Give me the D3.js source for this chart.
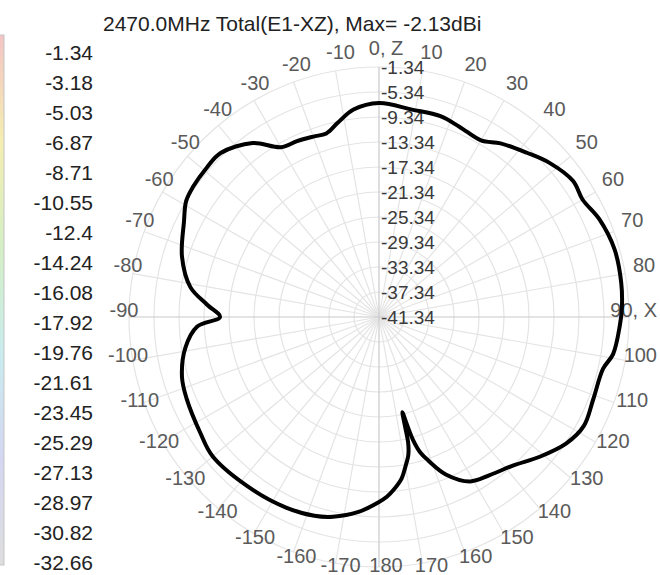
<!DOCTYPE html>
<html>
<head>
<meta charset="utf-8">
<script src="https://cdn.jsdelivr.net/npm/d3@7"></script>
<style>
  html, body { margin: 0; padding: 0; background: #fff; }
  svg { display: block; font-family: "Liberation Sans", Arial, sans-serif; }
</style>
</head>
<body>
<svg id="chart" width="660" height="575"></svg>
<script>
'use strict'

// chart data
const titleText = '2470.0MHz Total(E1-XZ), Max= -2.13dBi'
const legendLevels = [-1.34, -3.18, -5.03, -6.87, -8.71, -10.55, -12.4, -14.24, -16.08,
  -17.92, -19.76, -21.61, -23.45, -25.29, -27.13, -28.97, -30.82, -32.66]
const ringLevels = [-41.34, -37.34, -33.34, -29.34, -25.34, -21.34, -17.34, -13.34, -9.34, -5.34, -1.34]
const angleTicks = d3.range(-170, 181, 10)
const angleNames = { 0: '0, Z', 90: '90, X' }

// measured gain (dBi) against angle (deg, clockwise from +Z)
const patternAngles = [-180, -174, -167, -162, -154, -144, -130, -123, -113, -107, -99, -93, -90,
  -86, -81, -73, -64, -59, -55, -49, -44, -36, -30, -25, -20, -16, -12, -7, 0, 9, 17, 23, 30,
  35, 42, 48, 55, 60, 66, 74, 82, 88, 92, 99, 103, 111, 118, 124, 131, 138, 145, 151, 157, 161,
  163, 164.5, 165.5, 166.2, 166.6, 167, 168, 170, 172, 175, 177.5]
const patternGain = [-11.74, -9.98, -8.54, -7.9, -7.42, -7.1, -6.62, -7.26, -7.9, -8.38, -9.98,
  -12.22, -15.9, -13.82, -10.78, -8.38, -6.62, -5.34, -5.02, -4.86, -4.86, -6.94, -9.98, -10.3,
  -10.62, -10.78, -9.58, -7.9, -7.1, -7.74, -7.74, -8.3, -8.7, -7.42, -5.98, -4.54, -3.42,
  -3.74, -2.78, -2.13, -2.2, -2.46, -2.78, -3.42, -4.54, -4.62, -4.22, -5.18, -7.26, -9.34,
  -10.46, -11.26, -13.98, -17.02, -18.62, -20.86, -23.74, -25.66, -23.42, -20.54, -18.78,
  -17.02, -15.26, -13.66, -12.54]

const width = 660
const svg = d3.select('#chart')
const cx = 379
const cy = 317
const outerR = 250

const rScale = d3.scaleLinear()
  .domain([-41.34, -1.34])
  .range([0, outerR])

const toRad = d => d * Math.PI / 180

// colour bar at the left edge (mostly cropped)
const defs = svg.append('defs')
const grad = defs.append('linearGradient')
  .attr('id', 'barGrad')
  .attr('x1', 0).attr('y1', 0).attr('x2', 0).attr('y2', 1)
const barColors = ['#f4c4c4', '#f5eeb0', '#d4efc4', '#c8ecee', '#d4d6f2', '#dedede']
barColors.forEach((c, i) => {
  grad.append('stop')
    .attr('offset', i / (barColors.length - 1))
    .attr('stop-color', c)
})
svg.append('rect')
  .attr('x', -1).attr('y', 35)
  .attr('width', 5).attr('height', 530)
  .attr('fill', 'url(#barGrad)')
  .attr('stroke', '#c4c4c4')

// legend labels
const legendY = d3.scalePoint()
  .domain(legendLevels)
  .range([53, 563])

svg.append('g')
  .selectAll('text')
  .data(legendLevels)
  .join('text')
  .attr('x', 93)
  .attr('y', d => legendY(d))
  .attr('dy', '0.35em')
  .attr('text-anchor', 'end')
  .attr('font-size', 21)
  .attr('fill', '#222')
  .text(d => d)

// title
svg.append('text')
  .attr('x', 103)
  .attr('y', 31)
  .attr('font-size', 21)
  .attr('fill', '#222')
  .text(titleText)

const plot = svg.append('g')
  .attr('transform', `translate(${cx},${cy})`)

// grid: rings and spokes
plot.append('g')
  .selectAll('circle')
  .data(ringLevels.slice(1))
  .join('circle')
  .attr('r', d => rScale(d))
  .attr('fill', 'none')
  .attr('stroke', '#e4e4e4')
  .attr('stroke-width', 1.2)

plot.append('g')
  .selectAll('line')
  .data(d3.range(0, 360, 10).filter(a => a % 90 !== 0))
  .join('line')
  .attr('x1', 0).attr('y1', 0)
  .attr('x2', a => outerR * Math.sin(toRad(a)))
  .attr('y2', a => -outerR * Math.cos(toRad(a)))
  .attr('stroke', '#e4e4e4')
  .attr('stroke-width', 1.2)

plot.append('g')
  .selectAll('line')
  .data([0, 90, 180, 270])
  .join('line')
  .attr('x1', 0).attr('y1', 0)
  .attr('x2', a => outerR * Math.sin(toRad(a)))
  .attr('y2', a => -outerR * Math.cos(toRad(a)))
  .attr('stroke', '#c9c9c9')
  .attr('stroke-width', 1.2)

// radial labels on the vertical axis
plot.append('g')
  .selectAll('text')
  .data(ringLevels)
  .join('text')
  .attr('x', 2)
  .attr('y', d => -rScale(d))
  .attr('dy', '0.35em')
  .attr('font-size', 19)
  .attr('fill', '#3a3a3a')
  .text(d => d)

// angle labels (kept inside the page edges, like the original)
const labelR = 262
const labelShift = { x: 7, y: -7 }
plot.append('g')
  .attr('transform', `translate(${labelShift.x},${labelShift.y})`)
  .selectAll('text')
  .data(angleTicks)
  .join('text')
  .attr('y', a => Math.min(-labelR * Math.cos(toRad(a)), 255))
  .attr('dy', '0.35em')
  .attr('text-anchor', 'middle')
  .attr('font-size', 20)
  .attr('fill', '#5a5a5a')
  .text(a => angleNames[a] || a)
  .attr('x', function (a) {
    const x = labelR * Math.sin(toRad(a))
    const half = this.getComputedTextLength() / 2
    const maxX = width - 3 - cx - labelShift.x - half
    return Math.min(x, maxX)
  })

// pattern trace
const pattern = patternAngles.map((a, i) => ({ angle: a, gain: patternGain[i] }))
const radial = d3.lineRadial()
  .angle(d => toRad(d.angle))
  .radius(d => rScale(d.gain))
  .curve(d3.curveCatmullRomClosed.alpha(0.5))

plot.append('path')
  .datum(pattern)
  .attr('d', radial)
  .attr('fill', 'none')
  .attr('stroke', '#000')
  .attr('stroke-width', 4)
  .attr('stroke-linejoin', 'round')
</script>
</body>
</html>
